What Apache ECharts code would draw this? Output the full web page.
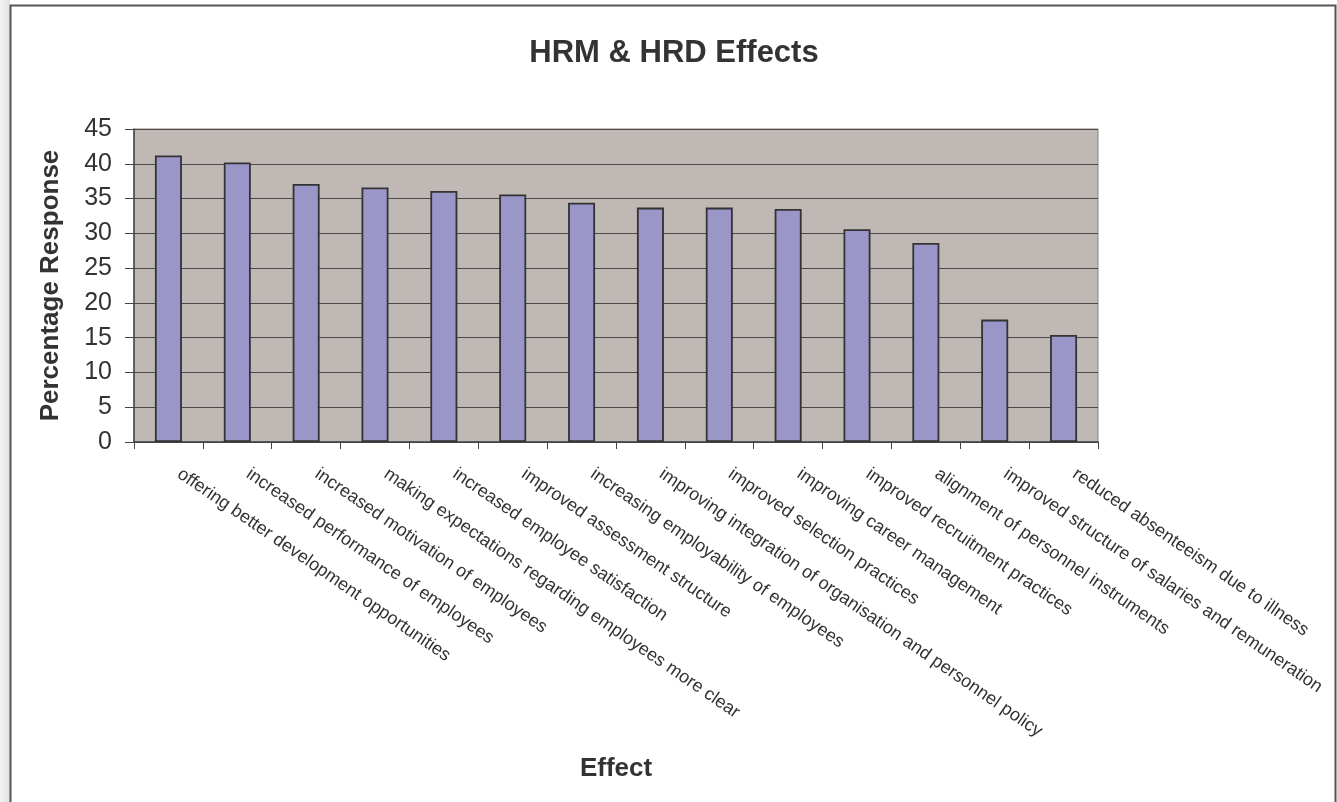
<!DOCTYPE html>
<html>
<head>
<meta charset="utf-8">
<title>HRM &amp; HRD Effects</title>
<script src="https://cdn.jsdelivr.net/npm/echarts@6/dist/echarts.min.js"></script>
<style>
  html, body { margin: 0; padding: 0; background: #ffffff; }
  #chart { width: 1337px; height: 802px; }
</style>
</head>
<body>
<div id="chart"></div>
<script>
// Effects of HRM & HRD, share of respondents naming each effect
const effects = [
  'offering better development opportunities',
  'increased performance of employees',
  'increased motivation of employees',
  'making expectations regarding employees more clear',
  'increased employee satisfaction',
  'improved assessment structure',
  'increasing employability of employees',
  'improving integration of organisation and personnel policy',
  'improved selection practices',
  'improving career management',
  'improved recruitment practices',
  'alignment of personnel instruments',
  'improved structure of salaries and remuneration',
  'reduced absenteeism due to illness'
];
const responses = [41.2, 40.2, 37.1, 36.6, 36.1, 35.6, 34.4, 33.7, 33.7, 33.5, 30.6, 28.6, 17.6, 15.4];

const FONT = '"Liberation Sans", Arial, sans-serif';
const TEXT = '#333333';

const chart = echarts.init(document.getElementById('chart'), null, { renderer: 'canvas' });

chart.setOption({
  backgroundColor: '#ffffff',
  animation: false,
  title: {
    text: 'HRM & HRD Effects',
    left: 669,
    textAlign: 'center',
    top: 33,
    textStyle: { fontFamily: FONT, fontSize: 31, fontWeight: 'bold', color: TEXT }
  },
  graphic: [
    {
      type: 'rect',
      shape: { x: 0, y: 0, width: 10, height: 802 },
      style: {
        fill: new echarts.graphic.LinearGradient(0, 0, 1, 0, [
          { offset: 0, color: '#f2f2f2' },
          { offset: 1, color: '#e2e2e2' }
        ])
      },
      silent: true
    },
    {
      type: 'rect',
      shape: { x: 10.5, y: 5.5, width: 1325, height: 820 },
      style: { fill: 'none', stroke: '#555555', lineWidth: 2 },
      silent: true
    }
  ],
  grid: {
    left: 134,
    right: 239,
    top: 129,
    bottom: 360,
    show: true,
    backgroundColor: '#c0b8b5',
    borderColor: '#8a8280',
    borderWidth: 1
  },
  xAxis: {
    type: 'category',
    data: effects,
    name: 'Effect',
    nameLocation: 'middle',
    nameGap: 314,
    nameTextStyle: { fontFamily: FONT, fontSize: 26, fontWeight: 'bold', color: TEXT },
    axisLine: { show: true, lineStyle: { color: '#444444', width: 1.5 } },
    axisTick: { show: true, length: 7, lineStyle: { color: '#444444' } },
    axisLabel: {
      interval: 0,
      rotate: -34.5,
      margin: 23,
      padding: [0, 0, 0, 13],
      fontFamily: FONT,
      fontSize: 18,
      color: TEXT
    },
    splitLine: { show: false }
  },
  yAxis: {
    type: 'value',
    min: 0,
    max: 45,
    interval: 5,
    name: 'Percentage Response',
    nameLocation: 'middle',
    nameGap: 70,
    nameTextStyle: { fontFamily: FONT, fontSize: 26, fontWeight: 'bold', color: TEXT },
    axisLine: { show: true, lineStyle: { color: '#444444', width: 1.5 } },
    axisTick: { show: true, inside: false, length: 9, lineStyle: { color: '#444444' } },
    axisLabel: { margin: 22, fontFamily: FONT, fontSize: 25, color: TEXT },
    splitLine: { show: true, lineStyle: { color: '#4a4a4a', width: 1 } }
  },
  series: [
    {
      type: 'bar',
      data: responses,
      barWidth: 27,
      itemStyle: { color: '#9b96c8', borderColor: '#333333', borderWidth: 1.8 }
    }
  ]
});
</script>
</body>
</html>
